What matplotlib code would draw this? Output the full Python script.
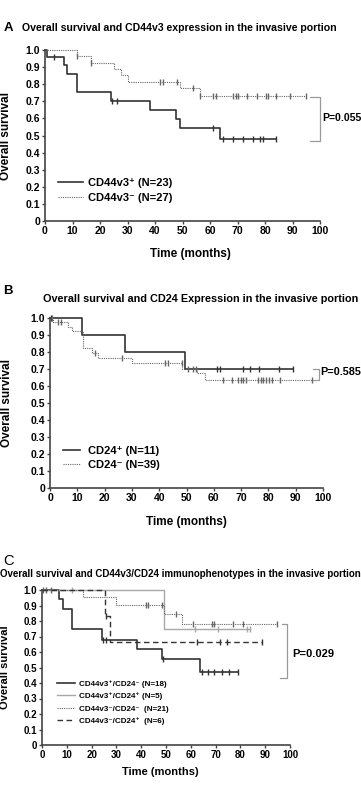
import numpy as np
import matplotlib
matplotlib.use("Agg")
import matplotlib.pyplot as plt

plt.rcParams['font.family'] = ['Liberation Sans', 'DejaVu Sans']
plt.rcParams['font.weight'] = 'bold'

# ---- Panel A : CD44v3 ----
a_pos_t = [0.8, 6.9, 8.1, 11.8, 23.9, 38.2, 47.6, 49.1, 63.6]
a_pos_s = [0.957, 0.913, 0.858, 0.752, 0.70, 0.65, 0.596, 0.542, 0.48]
a_pos_c = [3.3, 24.2, 26.3, 61, 64.6, 68.3, 71.9, 75.5, 78.2, 79.4, 84]

a_neg_t = [11.8, 16.6, 25.1, 27.6, 30, 49.1, 56.4]
a_neg_s = [0.963, 0.926, 0.889, 0.852, 0.815, 0.776, 0.731]
a_neg_c = [11.8, 16.6, 41.8, 43, 47.9, 53.9, 56.4, 61.2, 62.2, 68.5, 69.5, 70.3,
           73.3, 77, 80.4, 81.2, 84, 89.1, 94.9]

# ---- Panel B : CD24 ----
b_pos_t = [11.8, 27.5, 49.5]
b_pos_s = [0.9, 0.8, 0.7]
b_pos_c = [0.4, 61, 62.3, 70.6, 73.3, 76.7, 84, 88.9]

b_neg_t = [1.2, 6.5, 8, 12, 15.3, 17.7, 30, 48.5, 54, 56.8]
b_neg_s = [0.974, 0.949, 0.923, 0.822, 0.796, 0.767, 0.737, 0.70, 0.678, 0.635]
b_neg_c = [0.9, 2.8, 4, 16.5, 26.5, 42.1, 43.1, 48.2, 50.6, 52.2, 53.6, 63.5,
           66.5, 69, 69.8, 70.8, 71.8, 76.3, 77.2, 78.1, 79.1, 80.1, 81.2, 84.2, 95.8]

# ---- Panel C : CD44v3/CD24 ----
c1_t = [6.8, 8.3, 12, 24.1, 38.4, 48.3, 63.7]
c1_s = [0.944, 0.88, 0.75, 0.68, 0.617, 0.553, 0.469]
c1_c = [24.7, 26, 48.9, 64.5, 67, 69.5, 72.5, 75.5, 79]

c2_t = [49.2]
c2_s = [0.75]
c2_c = [12, 61.5, 71.1, 82.5, 83.9]

c3_t = [16.7, 29.8, 49.2, 56.3]
c3_s = [0.952, 0.905, 0.845, 0.778]
c3_c = [0.5, 1.6, 3.5, 41.9, 42.9, 48.3, 54, 61, 68.4, 69.4, 76.9, 81.2, 94.6]

c4_t = [25.4, 27.4]
c4_s = [0.833, 0.667]
c4_c = [25.8, 62.4, 71.8, 74.5, 88.6]

W, H = 361, 785
fig = plt.figure(figsize=(W / 100, H / 100), dpi=100)


def add_ax(left, top, right, bottom):
    return fig.add_axes([left / W, 1 - bottom / H, (right - left) / W, (bottom - top) / H])


def km(ax, t, s, cens, label, **kw):
    end = max(max(t), max(cens))
    xs = [0] + t + [end]
    ys = [1.0] + s + [s[-1]]
    line, = ax.step(xs, ys, where='post', label=label, clip_on=False, **kw)
    idx = np.searchsorted(t, cens, side='right')
    cy = np.array([1.0] + s)[idx]
    ax.plot(cens, cy, ls='none', marker='|', ms=5, mew=1.0, color=kw['color'], clip_on=False)
    return line


def style(ax, xlab_x, xlab_y, ylab_x, tsize=7.5, lsize=8.5):
    ax.set_xlim(0, 100)
    ax.set_ylim(0, 1.0)
    ax.set_xticks(np.arange(0, 101, 10))
    yt = np.round(np.arange(0, 1.01, 0.1), 1)
    ax.set_yticks(yt)
    ax.set_yticklabels(['0'] + [f'{v:.1f}' for v in yt[1:]])
    for sp in ['top', 'right']:
        ax.spines[sp].set_visible(False)
    for sp in ['left', 'bottom']:
        ax.spines[sp].set_linewidth(1.2)
        ax.spines[sp].set_color('#444444')
    ax.tick_params(direction='out', length=2.5, width=1, labelsize=tsize, pad=1, color='#444444')
    ax.set_xlabel('Time (months)', fontsize=lsize, fontweight='bold')
    ax.set_ylabel('Overall survival', fontsize=lsize, fontweight='bold')
    ax.xaxis.set_label_coords(xlab_x, xlab_y)
    ax.yaxis.set_label_coords(ylab_x, 0.5)


def bracket(ax, x0, x1, ytop, ybot, x0b=None):
    if x0b is None:
        x0b = x0
    ax.plot([x0, x1, x1, x0b], [ytop, ytop, ybot, ybot], color='#9a9a9a', lw=0.9, clip_on=False)


dark = '#333333'
mid = '#666666'
light = '#a8a8a8'

# Panel A
axA = add_ax(45, 50, 320, 221)
lA1 = km(axA, a_pos_t, a_pos_s, a_pos_c, 'CD44v3\u207a (N=23)', color=dark, lw=1.2)
lA2 = km(axA, a_neg_t, a_neg_s, a_neg_c, 'CD44v3\u207b (N=27)', color=mid, lw=0.8, ls=(0, (1, 1)))
style(axA, 0.53, -0.16, -0.12)
axA.legend(handles=[lA1, lA2], loc='upper left', bbox_to_anchor=(0.047, 0.25), frameon=False,
           fontsize=8, handlelength=2.25, handletextpad=0.45, labelspacing=0.4, borderpad=0,
           borderaxespad=0)
bracket(axA, 96.4, 100, 0.725, 0.47)
axA.text(100.8, 0.6, 'P=0.055', fontsize=7.6, fontweight='bold', va='center', ha='left')

# Panel B
axB = add_ax(50, 318, 323, 488)
lB1 = km(axB, b_pos_t, b_pos_s, b_pos_c, 'CD24\u207a (N=11)', color=dark, lw=1.2)
lB2 = km(axB, b_neg_t, b_neg_s, b_neg_c, 'CD24\u207b (N=39)', color=mid, lw=0.8, ls=(0, (1, 1)))
style(axB, 0.5, -0.165, -0.135)
axB.legend(handles=[lB1, lB2], loc='upper left', bbox_to_anchor=(0.048, 0.25), frameon=False,
           fontsize=8, handlelength=1.55, handletextpad=0.7, labelspacing=0.4, borderpad=0,
           borderaxespad=0)
bracket(axB, 96.3, 98.5, 0.70, 0.635)
axB.text(99.0, 0.68, 'P=0.585', fontsize=7.8, fontweight='bold', va='center', ha='left')

# Panel C
axC = add_ax(42, 590, 290, 745)
lC1 = km(axC, c1_t, c1_s, c1_c, 'CD44v3\u207a/CD24\u207b (N=18)', color=dark, lw=1.2)
lC2 = km(axC, c2_t, c2_s, c2_c, 'CD44v3\u207a/CD24\u207a (N=5)', color=light, lw=1.0)
lC3 = km(axC, c3_t, c3_s, c3_c, 'CD44v3\u207b/CD24\u207b  (N=21)', color=mid, lw=0.8, ls=(0, (1, 1)))
lC4 = km(axC, c4_t, c4_s, c4_c, 'CD44v3\u207b/CD24\u207a  (N=6)', color=dark, lw=1.0, ls=(0, (4, 2.5)))
style(axC, 0.476, -0.14, -0.13, tsize=7, lsize=8)
axC.legend(handles=[lC1, lC2, lC3, lC4], loc='upper left', bbox_to_anchor=(0.06, 0.42), frameon=False,
           fontsize=5.8, handlelength=2.2, handletextpad=0.6, labelspacing=0.6, borderpad=0,
           borderaxespad=0)
bracket(axC, 96.8, 98.8, 0.78, 0.435, x0b=96)
axC.text(101, 0.59, 'P=0.029', fontsize=8, fontweight='bold', va='center', ha='left')


# Titles
def ftext(x, y, s, **kw):
    fig.text(x / W, 1 - y / H, s, va='center', ha='left', **kw)


ftext(4, 28, 'A', fontsize=9.5, fontweight='bold')
ftext(22, 28, 'Overall survival and CD44v3 expression in the invasive portion', fontsize=7.55, fontweight='bold')
ftext(3, 291, 'B', fontsize=9.5, fontweight='bold')
ftext(43, 299, 'Overall survival and CD24 Expression in the invasive portion', fontsize=7.8, fontweight='bold')
ftext(3, 561, 'C', fontsize=10.5, fontweight='normal')
ftext(0, 574, 'Overall survival and CD44v3/CD24 immunophenotypes in the invasive portion', fontsize=7.0, fontweight='bold')

fig.savefig('out.png', dpi=100)
